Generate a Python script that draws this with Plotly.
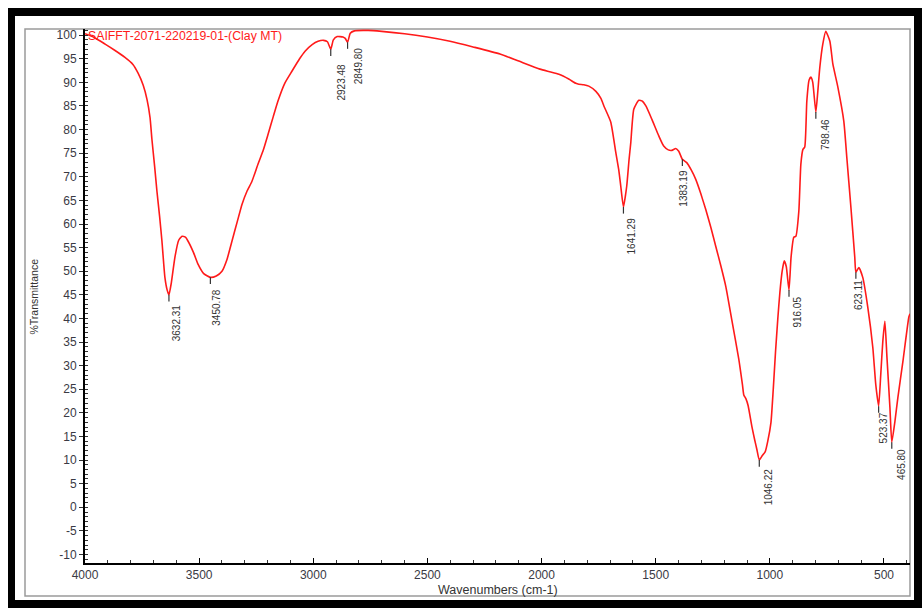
import plotly.graph_objects as go

# FT-IR spectrum of clay sample (wavenumber in cm-1, % transmittance)
wavenumber = [
    4000, 3960, 3912, 3870, 3825, 3790, 3768, 3745, 3728, 3715, 3707, 3695, 3685, 3673,
    3663, 3650, 3640, 3632.31, 3622, 3606, 3590, 3575, 3560, 3549, 3525, 3505, 3480,
    3450.78, 3425, 3400, 3378, 3356, 3333, 3312, 3290, 3269, 3242, 3220, 3198, 3175,
    3155, 3125, 3093, 3060, 3036, 3005, 2979, 2955, 2938, 2923.48, 2912, 2895, 2870,
    2860, 2849.80, 2838, 2820, 2760, 2700, 2600, 2500, 2401, 2300, 2182, 2100, 2007,
    1960, 1924, 1881, 1850, 1837, 1815, 1793, 1762, 1740, 1727, 1697, 1675, 1662, 1653,
    1641.29, 1627, 1617, 1609, 1596, 1574, 1558, 1543, 1517, 1486, 1465, 1445, 1429,
    1412, 1399, 1383.19, 1375, 1364, 1345, 1325, 1303, 1281, 1258, 1237, 1215, 1193,
    1167, 1136, 1120, 1114, 1105, 1095, 1079, 1066, 1057, 1046.22, 1035, 1020, 1009,
    995, 985, 975, 965, 956, 946, 937, 928, 916.05, 907, 895, 886, 873, 864, 855, 847,
    838, 828, 820, 812, 798.46, 790, 781, 768, 755, 737, 724, 702, 676, 663, 645, 628,
    623.11, 610, 593, 571, 549, 536, 523.37, 514, 505, 496, 487, 474, 465.80, 452, 439,
    417, 391, 386,
]
transmittance = [
    100.3, 99.5, 98.1, 96.8, 95.3, 93.8, 92.0, 89.4, 86.3, 82.5, 78.0, 72.2, 67.0, 61.5,
    56.4, 48.7, 46.0, 45.0, 47.5, 53.0, 56.5, 57.4, 57.2, 56.4, 54.0, 51.5, 49.5,
    48.7, 49.0, 50.0, 52.5, 56.4, 60.5, 64.2, 67.0, 69.0, 72.7, 75.5, 79.0, 82.8,
    86.0, 89.8, 92.4, 95.0, 96.6, 98.0, 98.7, 98.9, 98.6, 97.0, 99.0, 99.7, 99.6,
    99.3, 98.5, 100.4, 100.9, 101.0, 100.8, 100.3, 99.6, 98.7, 97.5, 96.0, 94.5, 92.8,
    92.2, 91.7, 90.7, 89.8, 89.6, 89.5, 89.2, 88.1, 86.6, 85.0, 81.6, 75.2, 71.5, 68.0,
    63.6, 68.0, 73.5, 77.3, 84.3, 86.2, 86.0, 85.0, 82.2, 78.6, 76.5, 75.7, 75.6,
    76.0, 75.4, 73.7, 73.4, 73.0, 71.5, 69.5, 66.5, 63.1, 59.2, 55.3, 51.2, 46.8,
    39.8, 31.4, 26.0, 23.8, 23.0, 21.5, 17.2, 14.2, 12.3, 10.0, 10.8, 11.8, 14.0,
    18.0, 25.0, 33.0, 40.0, 45.5, 50.0, 52.2, 51.0, 46.0, 53.0, 57.2, 57.4, 62.7, 72.7, 75.8, 76.3,
    86.0, 90.5, 91.1, 90.0, 83.7, 88.0, 93.2, 98.1, 100.8, 98.7, 93.9, 89.0, 81.8, 74.2, 63.6, 53.0,
    49.8, 50.8, 48.7, 42.4, 33.9, 26.0, 21.4, 28.2, 35.2, 39.4, 31.8, 21.2, 13.8, 18.2, 23.3,
    30.9, 40.3, 41.0,
]

# Labelled peak positions (cm-1)
peak_wavenumbers = [3632.31, 3450.78, 2923.48, 2849.80, 1641.29, 1383.19,
                    1046.22, 916.05, 798.46, 623.11, 523.37, 465.80]
peak_labels = ["3632.31", "3450.78", "2923.48", "2849.80", "1641.29", "1383.19",
               "1046.22", "916.05", "798.46", "623.11", "523.37", "465.80"]

sample_name = "SAIFFT-2071-220219-01-(Clay MT)"

# axis tick values and their printed labels
x_tick_values = [4000, 3500, 3000, 2500, 2000, 1500, 1000, 500]
x_tick_labels = ["4000", "3500", "3000", "2500", "2000", "1500", "1000", "500"]
y_tick_values = [100, 95, 90, 85, 80, 75, 70, 65, 60, 55, 50, 45, 40, 35, 30, 25,
                 20, 15, 10, 5, 0, -5, -10]
y_tick_labels = ["100", "95", "90", "85", "80", "75", "70", "65", "60", "55", "50",
                 "45", "40", "35", "30", "25", "20", "15", "10", "5", "0", "-5", "-10"]

# pixel offsets of each peak label relative to its peak (dx, dy)
label_offsets = {
    "3632.31": (7, -7), "3450.78": (6.5, -9), "2923.48": (11, -12),
    "2849.80": (11, -3), "1641.29": (8.5, -8), "1383.19": (1, -8.5),
    "1046.22": (9, -6.5), "916.05": (9, -5), "798.46": (9.5, -5),
    "623.11": (2, -6), "523.37": (5, -4), "465.80": (9, -4.5),
}

W, H = 922, 608
L, R, T, B = 85, 910, 29, 563


def px(x):
    return (x - L) / (R - L)


def py(y):
    return (B - y) / (B - T)


fig = go.Figure()
fig.add_trace(go.Scatter(
    x=wavenumber, y=transmittance, mode="lines",
    line=dict(color="#ff1a1a", width=1.6, shape="spline", smoothing=0.5),
    hoverinfo="x+y", showlegend=False,
))

shapes = []
annotations = []

# peak markers and labels
for wn, lab in zip(peak_wavenumbers, peak_labels):
    tv = transmittance[wavenumber.index(wn)]
    shapes.append(dict(type="line", xref="x", yref="y", x0=wn, x1=wn,
                       y0=tv, y1=tv - 1.4,
                       line=dict(color="#333333", width=1.2)))
    dx, dy = label_offsets[lab]
    annotations.append(dict(x=wn, y=tv, xref="x", yref="y", text=lab,
                            showarrow=False, textangle=-90,
                            xanchor="center", yanchor="top",
                            xshift=dx, yshift=dy,
                            font=dict(family="Liberation Sans", size=10, color="#333333")))

# sample name
annotations.append(dict(x=px(86), y=py(36), xref="paper", yref="paper",
                        text=sample_name, showarrow=False,
                        xanchor="left", yanchor="middle",
                        font=dict(family="Liberation Sans", size=12.3, color="#ff1a1a")))

# axis titles
annotations.append(dict(x=px(33), y=py(296.5), xref="paper", yref="paper",
                        text="%Transmittance", showarrow=False, textangle=-90,
                        xanchor="center", yanchor="middle", bgcolor="white",
                        font=dict(family="Liberation Sans", size=10.5, color="#333333")))
annotations.append(dict(x=px(497.5), y=py(590), xref="paper", yref="paper",
                        text="Wavenumbers (cm-1)", showarrow=False,
                        xanchor="center", yanchor="middle",
                        font=dict(family="Liberation Sans", size=12.5, color="#333333")))

# gray inner frame and thick black outer border
shapes.insert(0, dict(type="rect", xref="paper", yref="paper",
                      x0=px(25), x1=px(910), y0=py(596), y1=py(29),
                      line=dict(color="#9a9a9a", width=1.5), layer="below"))
for (x0, y0, x1, y1) in [(8, 8, 922, 16), (8, 8, 15, 608), (914, 8, 922, 608), (8, 600, 922, 608)]:
    shapes.append(dict(type="rect", xref="paper", yref="paper",
                       x0=px(x0), x1=px(x1), y0=py(y1), y1=py(y0),
                       fillcolor="black", line=dict(width=0)))

tick_font = dict(family="Liberation Sans", size=12, color="#3a3a44")

fig.update_layout(
    width=W, height=H,
    margin=dict(l=L, r=W - R, t=T, b=H - B),
    paper_bgcolor="white", plot_bgcolor="white",
    shapes=shapes, annotations=annotations,
    xaxis=dict(range=[4000, 386], showgrid=False, zeroline=False,
               showline=True, linecolor="black", linewidth=2,
               tickmode="array", tickvals=x_tick_values, ticktext=x_tick_labels,
               ticks="inside", ticklen=5, tickwidth=1, tickcolor="black",
               minor=dict(ticks="inside", ticklen=3, tickmode="linear", tick0=0,
                          dtick=100, tickcolor="#333333"),
               tickfont=tick_font),
    yaxis=dict(range=[-11.8, 101.3], showgrid=False, zeroline=False,
               showline=True, linecolor="black", linewidth=2,
               tickmode="array", tickvals=y_tick_values, ticktext=y_tick_labels,
               ticks="outside", ticklen=4, tickwidth=1, tickcolor="#333333",
               minor=dict(ticks="inside", ticklen=3, tickmode="linear", tick0=0,
                          dtick=1, tickcolor="#333333"),
               tickfont=tick_font),
)

fig.write_html("out.html")
